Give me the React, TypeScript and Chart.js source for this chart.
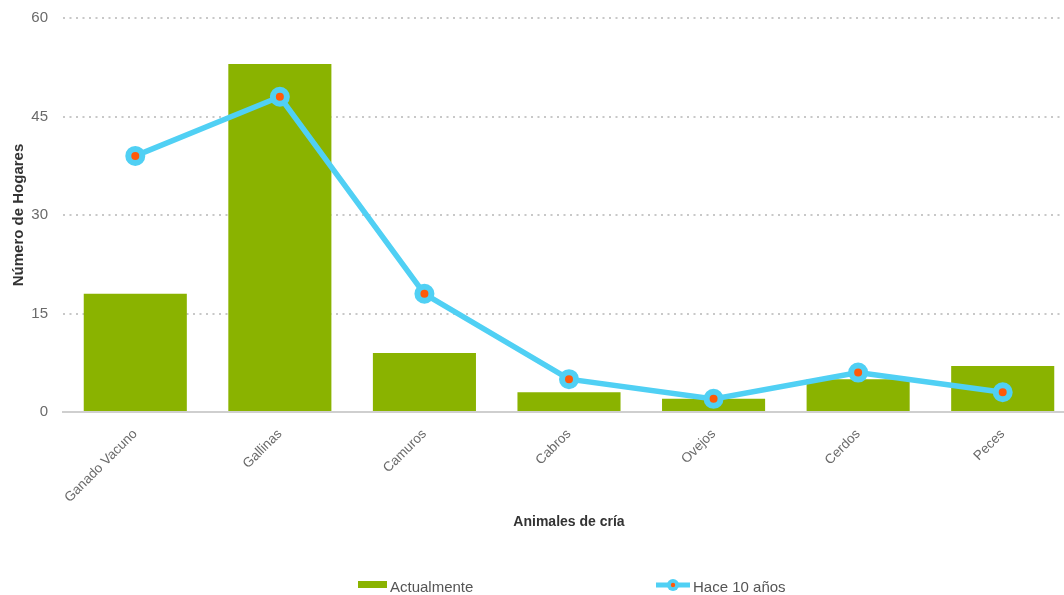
import React, { useEffect, useRef } from "react";
import { Chart, registerables } from "chart.js";

Chart.register(...registerables);

const categories = ["Ganado Vacuno", "Gallinas", "Camuros", "Cabros", "Ovejos", "Cerdos", "Peces"];
const actualmente = [18, 53, 9, 3, 2, 5, 7];
const haceDiezAnios = [39, 48, 18, 5, 2, 6, 3];
const yTickValues = [0, 15, 30, 45, 60];
const seriesNames = ["Actualmente", "Hace 10 años"];
const xTitle = "Animales de cría";
const yTitle = "Número de Hogares";

const FONT = "'Liberation Sans', Arial, Helvetica, sans-serif";
const BAR_COLOR = "#8ab300";
const LINE_COLOR = "#50d0f4";
const POINT_COLOR = "#ff5a0a";

const SHIFT_Y = 6;
const CANVAS_W = 1088;
const CANVAS_H = 595 + SHIFT_Y;

const legendPlugin = {
  id: "customLegend",
  afterDraw(chart: any) {
    const ctx = chart.ctx;
    const ds = chart.data.datasets;
    const dy = SHIFT_Y;
    ctx.save();
    ctx.font = `15px ${FONT}`;
    ctx.textBaseline = "middle";
    ctx.textAlign = "left";
    // item 1: bar
    ctx.fillStyle = ds[0].backgroundColor;
    ctx.fillRect(358, 581 + dy, 29, 7);
    ctx.fillStyle = "#555";
    ctx.fillText(ds[0].label, 390, 588 + dy);
    // item 2: line with point
    ctx.strokeStyle = ds[1].borderColor;
    ctx.lineWidth = 5;
    ctx.beginPath();
    ctx.moveTo(656, 585 + dy);
    ctx.lineTo(690, 585 + dy);
    ctx.stroke();
    ctx.beginPath();
    ctx.arc(673, 585 + dy, 6, 0, Math.PI * 2);
    ctx.fillStyle = ds[1].pointBorderColor;
    ctx.fill();
    ctx.beginPath();
    ctx.arc(673, 585 + dy, 2.2, 0, Math.PI * 2);
    ctx.fillStyle = ds[1].pointBackgroundColor;
    ctx.fill();
    ctx.fillStyle = "#555";
    ctx.fillText(ds[1].label, 693, 588 + dy);
    ctx.restore();
  },
};

export default function App() {
  const ref = useRef<HTMLCanvasElement | null>(null);

  useEffect(() => {
    if (!ref.current) return;
    Chart.defaults.font.family = FONT;
    const chart = new Chart(ref.current, {
      type: "bar",
      data: {
        labels: categories,
        datasets: [
          {
            type: "bar",
            label: seriesNames[0],
            data: actualmente,
            backgroundColor: BAR_COLOR,
            borderWidth: 0,
            categoryPercentage: 1,
            barPercentage: 0.713,
            order: 2,
          } as any,
          {
            type: "line",
            label: seriesNames[1],
            data: haceDiezAnios,
            borderColor: LINE_COLOR,
            backgroundColor: LINE_COLOR,
            borderWidth: 5.5,
            tension: 0,
            pointRadius: 7,
            pointBorderWidth: 6,
            pointBackgroundColor: POINT_COLOR,
            pointBorderColor: LINE_COLOR,
            order: 1,
          } as any,
        ],
      },
      options: {
        responsive: false,
        animation: false,
        devicePixelRatio: 1,
        layout: { padding: { left: 6, right: 0, top: 12, bottom: 60.6 } },
        plugins: {
          legend: { display: false },
          tooltip: { enabled: false },
        },
        scales: {
          x: {
            offset: true,
            grid: { display: false, drawTicks: false },
            border: { display: true, color: "#cfcfcf", width: 2 },
            ticks: {
              autoSkip: false,
              minRotation: 45,
              maxRotation: 45,
              padding: 14,
              color: "#6a6a6a",
              font: { size: 13.5 },
            },
            title: {
              display: true,
              text: xTitle,
              color: "#333",
              font: { size: 14, weight: "bold" },
              padding: { top: 4, bottom: 4 },
            },
            afterFit(scale: any) {
              scale.height = 122.4;
            },
          },
          y: {
            min: 0,
            max: 60,
            afterBuildTicks(scale: any) {
              scale.ticks = yTickValues.map((v) => ({ value: v }));
            },
            grid: {
              drawTicks: false,
              color: (c: any) => (c.tick && c.tick.value === 0 ? "rgba(0,0,0,0)" : "#c8c8c8"),
              lineWidth: 2,
            },
            border: { display: false, dash: [2, 4.5] },
            ticks: {
              padding: 15,
              color: "#6a6a6a",
              font: { size: 15 },
            },
            title: {
              display: true,
              text: yTitle,
              color: "#333",
              font: { size: 15, weight: "bold" },
              padding: { top: 4, bottom: 4 },
            },
            afterFit(scale: any) {
              scale.width = 57;
            },
          },
        },
      },
      plugins: [legendPlugin],
    });
    return () => chart.destroy();
  }, []);

  return (
    <div style={{ position: "fixed", left: 0, top: 0, right: 0, bottom: 0, overflow: "hidden", background: "#fff" }}>
      <canvas
        ref={ref}
        width={CANVAS_W}
        height={CANVAS_H}
        style={{ display: "block", marginTop: -SHIFT_Y }}
      />
    </div>
  );
}
